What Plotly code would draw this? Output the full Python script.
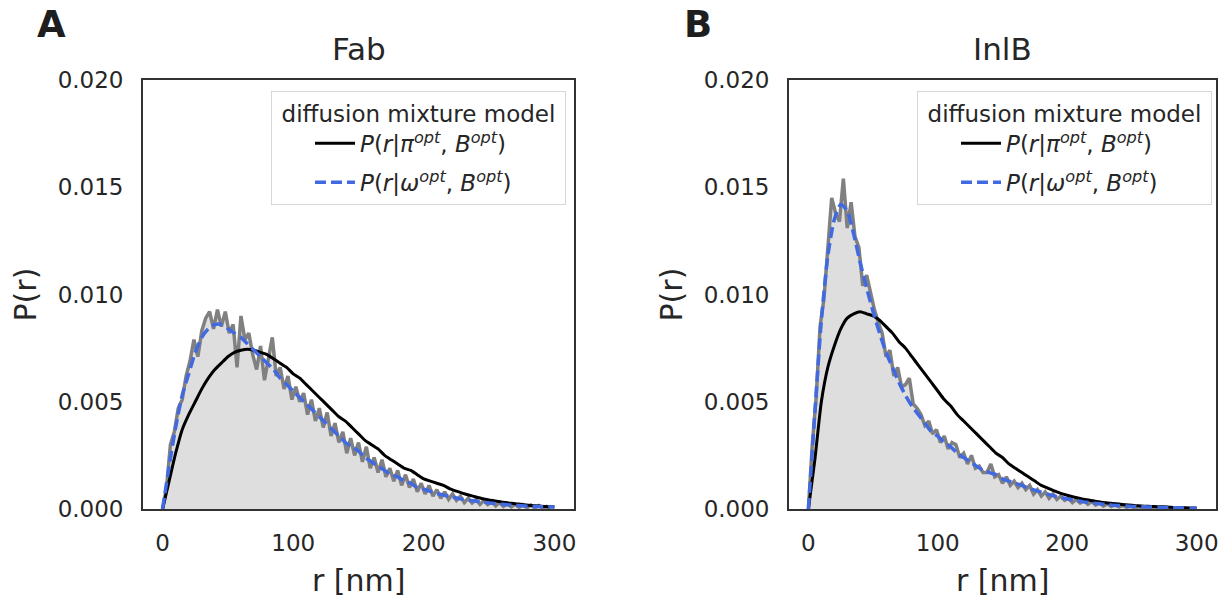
import plotly.graph_objects as go

# ---------------- data ----------------
r_model = list(range(0, 305, 5))          # nm, model curves
r_hist = list(range(0, 300, 3))           # nm, empirical distribution

fab_pi = [0.0, 0.0013, 0.0026, 0.0037, 0.0044, 0.0050, 0.0056, 0.0061, 0.0065, 0.0068,
          0.0071, 0.0073, 0.0074, 0.00745, 0.0074, 0.0073, 0.0072, 0.0070, 0.0068, 0.0066,
          0.0063, 0.0061, 0.0058, 0.0055, 0.0052, 0.0049, 0.0046, 0.0043, 0.0041, 0.0038,
          0.0035, 0.0032, 0.0030, 0.0028, 0.0025, 0.0023, 0.0021, 0.0019, 0.0018, 0.0016,
          0.0014, 0.0013, 0.0012, 0.0011, 0.00094, 0.00083, 0.00073, 0.00064, 0.00056, 0.00048,
          0.00042, 0.00037, 0.00032, 0.00028, 0.00025, 0.00021, 0.00018, 0.00015, 0.00013, 0.00011,
          0.00010]
fab_omega = [0.0, 0.0020, 0.0038, 0.0053, 0.0063, 0.0073, 0.0080, 0.0084, 0.0086, 0.0086,
             0.0084, 0.0082, 0.0080, 0.0077, 0.0074, 0.0071, 0.0068, 0.0065, 0.0061, 0.0058,
             0.0055, 0.0052, 0.0049, 0.0046, 0.0043, 0.0040, 0.0037, 0.0034, 0.0031, 0.0029,
             0.0027, 0.0024, 0.0022, 0.0020, 0.0018, 0.0016, 0.0015, 0.0013, 0.0012, 0.0010,
             0.00092, 0.00082, 0.00073, 0.00065, 0.00058, 0.00051, 0.00045, 0.00040, 0.00036, 0.00032,
             0.00028, 0.00025, 0.00022, 0.00019, 0.00017, 0.00015, 0.00013, 0.00012, 0.00011, 0.00010,
             0.00009]
fab_hist = [0.0, 0.0010, 0.0030, 0.0036, 0.0047, 0.0051, 0.0062, 0.0069, 0.0079, 0.0071,
            0.0083, 0.0089, 0.0092, 0.0084, 0.0093, 0.0085, 0.0092, 0.0082, 0.0086, 0.0066,
            0.0090, 0.0079, 0.0082, 0.0072, 0.0065, 0.0076, 0.0060, 0.0071, 0.0080, 0.0062,
            0.0066, 0.0056, 0.0062, 0.0051, 0.0057, 0.0050, 0.0054, 0.0044, 0.0051, 0.0041,
            0.0047, 0.0038, 0.0045, 0.0034, 0.0040, 0.0031, 0.0036, 0.0026, 0.0033, 0.0025,
            0.0031, 0.0022, 0.0029, 0.0019, 0.0024, 0.0017, 0.0023, 0.0015, 0.0019, 0.0013,
            0.0018, 0.0011, 0.0016, 0.0010, 0.0014, 0.0008, 0.0012, 0.0007, 0.0011, 0.0006,
            0.0009, 0.0005, 0.0008, 0.00045, 0.0007, 0.0004, 0.0006, 0.0003, 0.0005, 0.00028,
            0.00045, 0.00022, 0.0004, 0.0002, 0.00035, 0.00015, 0.0003, 0.00012, 0.00025, 0.0001,
            0.00022, 0.00008, 0.0002, 0.00006, 0.00018, 0.00005, 0.00016, 0.00004, 0.00012, 0.00003]

inlb_pi = [0.0, 0.0023, 0.0050, 0.0066, 0.0076, 0.0084, 0.0089, 0.0091, 0.0092, 0.0091,
           0.0090, 0.0088, 0.0085, 0.0082, 0.0078, 0.0075, 0.0071, 0.0067, 0.0063, 0.0059,
           0.0055, 0.0051, 0.0048, 0.0044, 0.0041, 0.0038, 0.0035, 0.0032, 0.0029, 0.0026,
           0.0024, 0.0021, 0.0019, 0.0017, 0.0015, 0.0013, 0.0011, 0.00097, 0.00084, 0.00073,
           0.00064, 0.00056, 0.00049, 0.00043, 0.00038, 0.00033, 0.00029, 0.00026, 0.00023, 0.00020,
           0.00017, 0.00015, 0.00013, 0.00012, 0.00011, 0.00010, 0.00008, 0.00007, 0.00006, 0.00005,
           0.00005]
inlb_omega = [0.0, 0.0045, 0.0088, 0.0118, 0.0135, 0.0142, 0.0139, 0.0128, 0.0115, 0.0103,
              0.0092, 0.0082, 0.0073, 0.0066, 0.0059, 0.0053, 0.0048, 0.0044, 0.0040, 0.0036,
              0.0034, 0.0031, 0.0029, 0.0026, 0.0024, 0.0022, 0.0020, 0.0018, 0.0017, 0.0016,
              0.0014, 0.0013, 0.0012, 0.0011, 0.00097, 0.00088, 0.00078, 0.00069, 0.00061, 0.00053,
              0.00047, 0.00041, 0.00036, 0.00031, 0.00027, 0.00024, 0.00021, 0.00018, 0.00016, 0.00014,
              0.00012, 0.00011, 0.00010, 0.00009, 0.00008, 0.00007, 0.00006, 0.00006, 0.00005, 0.00005,
              0.00004]
inlb_hist = [0.0, 0.0030, 0.0052, 0.0085, 0.0098, 0.0122, 0.0145, 0.0138, 0.0134, 0.0154,
             0.0131, 0.0143, 0.0127, 0.0122, 0.0104, 0.0109, 0.0100, 0.0093, 0.0087, 0.0082,
             0.0071, 0.0074, 0.0062, 0.0066, 0.0057, 0.0058, 0.0061, 0.0049, 0.0047, 0.0044,
             0.0039, 0.0041, 0.0035, 0.0037, 0.0031, 0.0034, 0.0028, 0.0031, 0.0030, 0.0024,
             0.0026, 0.0021, 0.0025, 0.0019, 0.0020, 0.0017, 0.0017, 0.0021, 0.0015, 0.0016,
             0.0012, 0.0015, 0.0011, 0.0013, 0.0010, 0.0012, 0.0009, 0.0011, 0.0007, 0.0009,
             0.0006, 0.0008, 0.0005, 0.0007, 0.00045, 0.0006, 0.0004, 0.0005, 0.0003, 0.00045,
             0.00028, 0.0004, 0.00022, 0.00035, 0.00018, 0.0003, 0.00014, 0.00024, 0.00012, 0.0002,
             0.0001, 0.00016, 0.00008, 0.00013, 0.00006, 0.0001, 0.00005, 0.00008, 0.00003, 0.00006,
             0.00002, 0.00005, 0.00002, 0.00004, 0.00001, 0.00003, 0.00001, 0.00002, 0.00001, 0.0]

panel_titles = ["Fab", "InlB"]
panel_letters = ["A", "B"]
x_ticks = [0, 100, 200, 300]
y_ticks = [0.0, 0.005, 0.010, 0.015, 0.020]
legend_title = "\u00a0diffusion mixture model\u00a0"
name_pi = "<i>P</i>(<i>r</i>|<i>π</i><sup><i>opt</i></sup>, <i>B</i><sup><i>opt</i></sup>)"
name_omega = "<i>P</i>(<i>r</i>|<i>ω</i><sup><i>opt</i></sup>, <i>B</i><sup><i>opt</i></sup>)"

# ---------------- style / layout helpers ----------------
FONT = "DejaVu Sans"
TXT = "rgb(38,38,38)"
OFF = 8                      # default body margin of the html page
W, H = 1232 - OFF, 602 - OFF


def px(X):                   # page x pixel -> paper fraction
    return (X - OFF) / W


def py(Y):                   # page y pixel (from top) -> paper fraction
    return (H - (Y - OFF)) / H


dom_x = [[px(143), px(574)], [px(789), px(1216)]]
dom_y = [py(509), py(80)]

fig = go.Figure()
panels = [(fab_hist, fab_pi, fab_omega), (inlb_hist, inlb_pi, inlb_omega)]
for i, (h, pi, om) in enumerate(panels):
    xa = "x" if i == 0 else "x2"
    ya = "y" if i == 0 else "y2"
    lg = "legend" if i == 0 else "legend2"
    fig.add_trace(go.Scatter(x=r_hist, y=h, mode="lines", xaxis=xa, yaxis=ya,
                             line=dict(color="rgb(128,128,128)", width=3.5),
                             fill="tozeroy", fillcolor="rgb(222,222,222)",
                             showlegend=False, hoverinfo="skip"))
    fig.add_trace(go.Scatter(x=r_model, y=pi, mode="lines", xaxis=xa, yaxis=ya,
                             line=dict(color="black", width=3, shape="spline", smoothing=0.6),
                             name=name_pi, legend=lg, legendgroup=f"pi{i}"))
    fig.add_trace(go.Scatter(x=r_model, y=om, mode="lines", xaxis=xa, yaxis=ya,
                             line=dict(color="rgb(65,105,225)", width=3.5, dash="11px,5px",
                                       shape="spline", smoothing=0.6),
                             name=name_omega, legend=lg, legendgroup=f"om{i}"))

axis_common = dict(showgrid=False, zeroline=False, showline=True, mirror=True,
                   linecolor="rgb(50,50,50)", linewidth=1.8, ticks="", automargin=False,
                   tickfont=dict(family=FONT, size=23, color=TXT))
fig.update_layout(
    width=W, height=H, margin=dict(l=0, r=0, t=0, b=0, pad=0),
    plot_bgcolor="white", paper_bgcolor="white",
    font=dict(family=FONT, color=TXT),
    xaxis=dict(domain=dom_x[0], range=[-15, 315], tickvals=x_ticks, anchor="y",
               ticklabelstandoff=12, **axis_common),
    yaxis=dict(domain=dom_y, range=[0, 0.020], tickvals=y_ticks, tickformat=".3f",
               anchor="x", ticklabelstandoff=13, **axis_common),
    xaxis2=dict(domain=dom_x[1], range=[-15, 315], tickvals=x_ticks, anchor="y2",
                ticklabelstandoff=12, **axis_common),
    yaxis2=dict(domain=dom_y, range=[0, 0.020], tickvals=y_ticks, tickformat=".3f",
                anchor="x2", ticklabelstandoff=13, **axis_common),
)

leg_common = dict(bgcolor="white", bordercolor="rgb(215,215,215)", borderwidth=1,
                  font=dict(family=FONT, size=23, color=TXT), itemwidth=40,
                  xanchor="right", yanchor="top", indentation=38,
                  traceorder="grouped", tracegroupgap=6,
                  title=dict(text=legend_title, side="top center",
                             font=dict(family=FONT, size=23, color=TXT)))
fig.update_layout(legend=dict(x=px(566), y=py(91), **leg_common),
                  legend2=dict(x=px(1212), y=py(91), **leg_common))

for i in range(2):
    cx = (dom_x[i][0] + dom_x[i][1]) / 2
    fig.add_annotation(text=panel_titles[i], x=cx, y=py(49), xref="paper", yref="paper",
                       showarrow=False, font=dict(family=FONT, size=31, color=TXT),
                       xanchor="center", yanchor="middle")
    fig.add_annotation(text="<b>" + panel_letters[i] + "</b>", x=px([51, 698][i]),
                       y=py(24), xref="paper", yref="paper", showarrow=False, height=30,
                       font=dict(family=FONT, size=37, color="rgb(30,30,30)"),
                       xanchor="center", yanchor="middle")
    fig.add_annotation(text="r [nm]", x=cx, y=py(580), xref="paper", yref="paper",
                       showarrow=False, font=dict(family=FONT, size=30, color=TXT),
                       xanchor="center", yanchor="middle")
    fig.add_annotation(text="P(r)", x=px([25, 671][i]), y=(dom_y[0] + dom_y[1]) / 2,
                       xref="paper", yref="paper", showarrow=False, textangle=-90,
                       font=dict(family=FONT, size=30, color=TXT),
                       xanchor="center", yanchor="middle")

fig.write_html("out.html")
